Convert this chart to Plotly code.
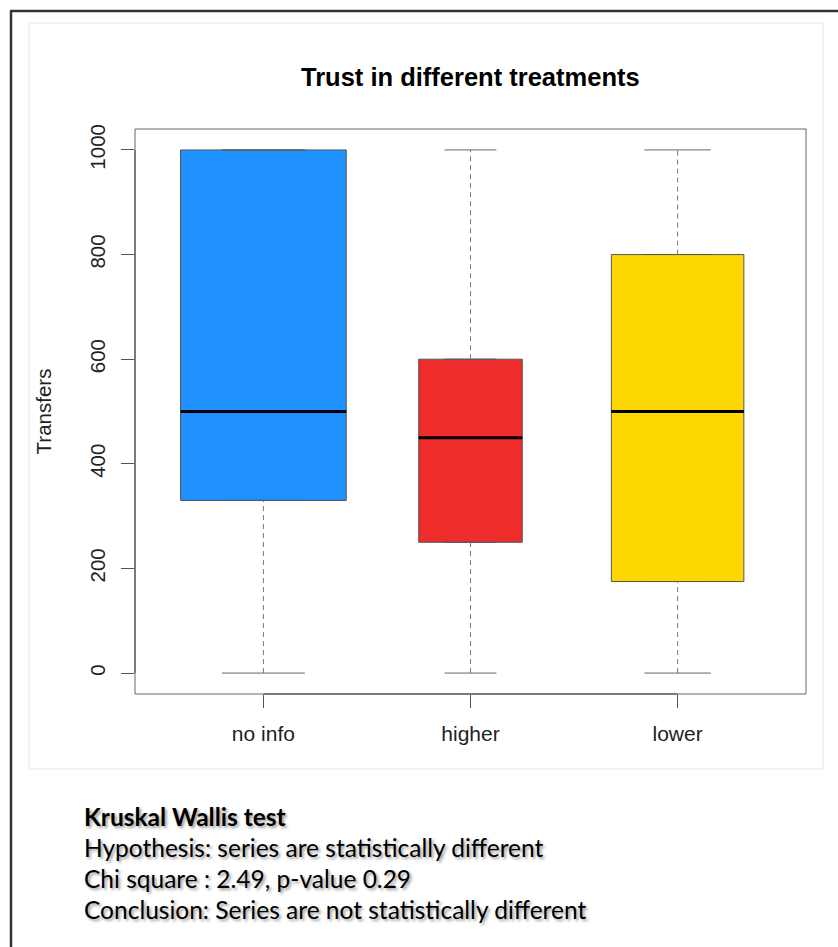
import plotly.graph_objects as go

# ---- data -------------------------------------------------------------
categories = ["no info", "higher", "lower"]
whisker_low = [0, 0, 0]
quartile1 = [330, 250, 175]
medians = [500, 450, 500]
quartile3 = [1000, 600, 800]
whisker_high = [1000, 1000, 1000]
y_ticks = [0, 200, 400, 600, 800, 1000]

test_lines = [
    "<b>Kruskal Wallis test</b>",
    "Hypothesis: series are statistically different",
    "Chi square : 2.49, p-value 0.29",
    "Conclusion: Series are not statistically different",
]

# ---- styling ----------------------------------------------------------
fills = ["#1E90FF", "#EE2C2C", "#FFD700"]
box_widths = [0.80, 0.50, 0.64]      # variable box widths (varwidth)
W, H = 838, 947
ML, MR, MT, MB = 135, 32, 129, 253
PW, PH = W - ML - MR, H - MT - MB
FONT = "Liberation Sans, Arial, sans-serif"
NOTE_FONT = "Lato, Open Sans, sans-serif"


def px_x(px):
    """pixel column -> paper x"""
    return (px - ML) / PW


def px_y(py):
    """pixel row -> paper y"""
    return (H - MB - py) / PH


fig = go.Figure()

for i, cat in enumerate(categories):
    pos = i + 1
    bw = box_widths[i]
    # box body (quartiles); whiskers are drawn separately so they can be dashed
    fig.add_trace(go.Box(
        x=[pos], q1=[quartile1[i]], median=[medians[i]], q3=[quartile3[i]],
        lowerfence=[quartile1[i]], upperfence=[quartile3[i]],
        width=bw, whiskerwidth=0.5, fillcolor=fills[i],
        line=dict(color="#555555", width=1), name=cat,
        showlegend=False, hoverinfo="skip",
    ))
    # dashed whiskers
    fig.add_trace(go.Scatter(
        x=[pos, pos, None, pos, pos],
        y=[whisker_low[i], quartile1[i], None, quartile3[i], whisker_high[i]],
        mode="lines", line=dict(color="#777777", width=1, dash="5px,4px"),
        showlegend=False, hoverinfo="skip",
    ))
    # whisker caps (half box width)
    fig.add_trace(go.Scatter(
        x=[pos - bw / 4, pos + bw / 4, None, pos - bw / 4, pos + bw / 4],
        y=[whisker_low[i], whisker_low[i], None, whisker_high[i], whisker_high[i]],
        mode="lines", line=dict(color="#666666", width=1),
        showlegend=False, hoverinfo="skip",
    ))
    # thick median bar
    fig.add_trace(go.Scatter(
        x=[pos - bw / 2, pos + bw / 2], y=[medians[i], medians[i]],
        mode="lines", line=dict(color="black", width=3),
        showlegend=False, hoverinfo="skip",
    ))

shapes = [
    # plot frame
    dict(type="rect", xref="paper", yref="paper", x0=0, x1=1, y0=0, y1=1,
         line=dict(color="#666666", width=1)),
    # axis lines spanning the ticks
    dict(type="line", xref="x", yref="paper", x0=1, x1=3, y0=0, y1=0,
         line=dict(color="#444444", width=1)),
    dict(type="line", xref="paper", yref="y", x0=0, x1=0, y0=0, y1=1000,
         line=dict(color="#444444", width=1)),
    # faint figure border
    dict(type="rect", xref="paper", yref="paper",
         x0=px_x(29), x1=px_x(823), y0=px_y(769), y1=px_y(23),
         line=dict(color="#e6e6e6", width=1)),
    # outer page border
    dict(type="line", xref="paper", yref="paper",
         x0=px_x(11), x1=px_x(11), y0=px_y(11), y1=px_y(950),
         line=dict(color="#333333", width=2.5)),
    dict(type="line", xref="paper", yref="paper",
         x0=px_x(10), x1=px_x(840), y0=px_y(11), y1=px_y(11),
         line=dict(color="#333333", width=2.5)),
]

annotations = [
    dict(text="<b>Trust in different treatments</b>", xref="paper", yref="paper",
         x=0.5, y=px_y(77), xanchor="center", yanchor="middle", showarrow=False,
         font=dict(family=FONT, size=25.5, color="black")),
]
for k, line in enumerate(test_lines):
    annotations.append(dict(
        text=line, xref="paper", yref="paper", x=px_x(82), y=px_y(816 + 31.3 * k),
        xanchor="left", yanchor="middle", showarrow=False,
        font=dict(family=NOTE_FONT, size=24.5, color="black",
                  shadow="2px 2px 3px rgba(0,0,0,0.4)"),
    ))

fig.update_layout(
    width=W, height=H,
    margin=dict(l=ML, r=MR, t=MT, b=MB, pad=0),
    paper_bgcolor="white", plot_bgcolor="white",
    showlegend=False, boxmode="overlay",
    shapes=shapes, annotations=annotations,
    xaxis=dict(
        range=[0.38, 3.62], tickmode="array", tickvals=[1, 2, 3], ticktext=categories,
        ticks="outside", ticklen=13, tickcolor="#555555", tickwidth=1,
        showline=False, showgrid=False, zeroline=False,
        tickfont=dict(family=FONT, size=21, color="#222222"),
        ticklabelstandoff=8,
    ),
    yaxis=dict(
        range=[-40, 1040], tickmode="array", tickvals=y_ticks,
        tickangle=-90, ticks="outside", ticklen=13, tickcolor="#555555", tickwidth=1,
        showline=False, showgrid=False, zeroline=False,
        tickfont=dict(family=FONT, size=20.5, color="#222222"),
        ticklabelstandoff=8,
        title=dict(text="Transfers", font=dict(family=FONT, size=20.5, color="#222222"),
                   standoff=28),
    ),
)

fig.write_html("out.html", config={"displayModeBar": False})
